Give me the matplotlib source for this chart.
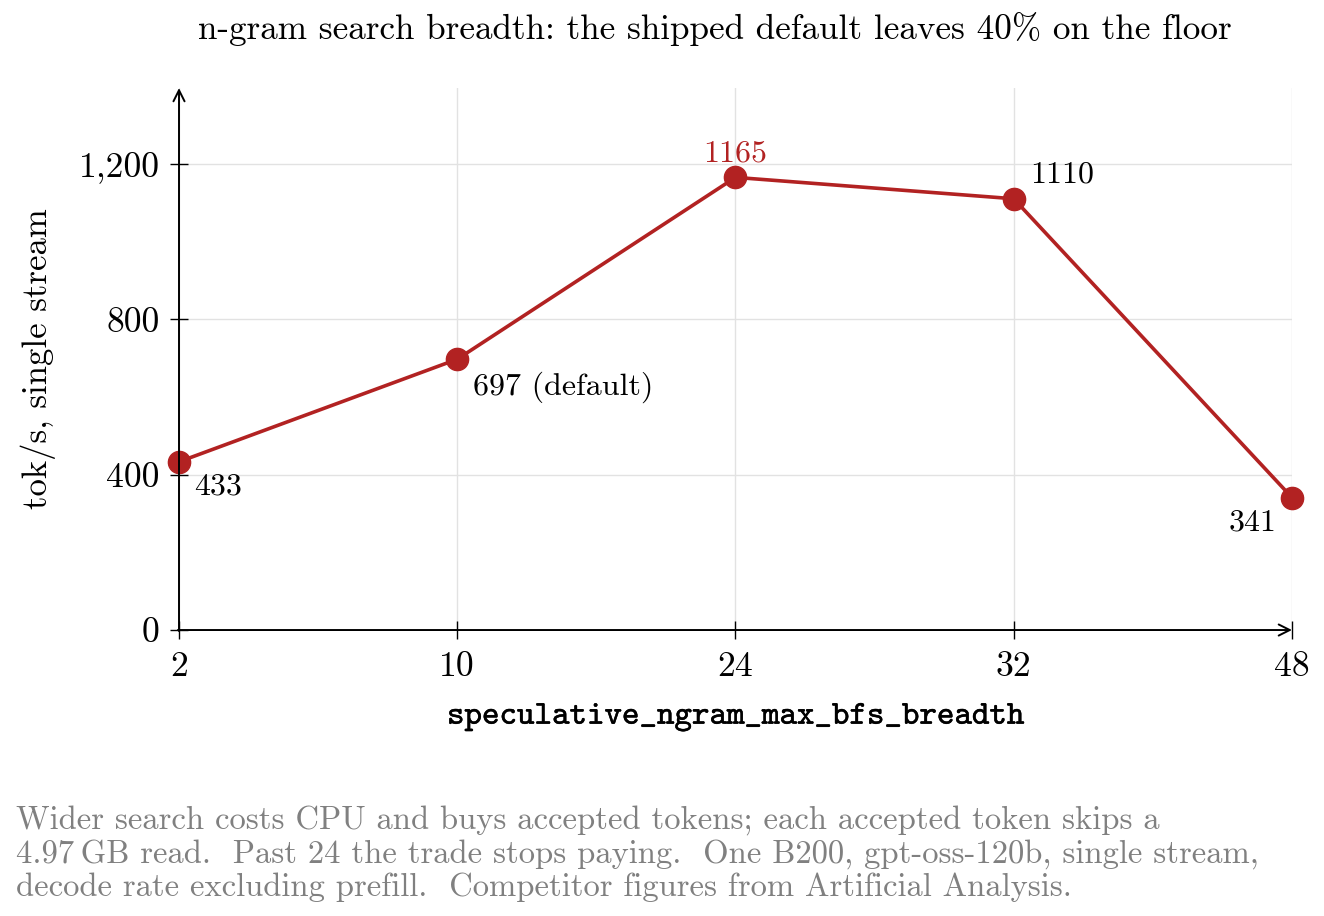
import matplotlib.pyplot as plt
import matplotlib.patheffects as pe

# data
breadths = ["2", "10", "24", "32", "48"]
tok_s = [433, 697, 1165, 1110, 341]
point_labels = ["433", "697 (default)", "1165", "1110", "341"]

red = "#b22222"
plt.rcParams["font.family"] = ["cmr10", "DejaVu Serif"]
plt.rcParams["axes.formatter.use_mathtext"] = True

fig = plt.figure(figsize=(13.24, 9.16), dpi=100)
ax = fig.add_axes([0.1352, 0.3122, 0.8406, 0.5917])

x = list(range(len(breadths)))
ax.plot(x, tok_s, color=red, lw=2.6, marker="o", ms=16, zorder=3, clip_on=False)

ax.set_xlim(0, 4)
ax.set_ylim(0, 1395)
ax.set_xticks(x)
ax.set_xticklabels(breadths)
ax.set_yticks([0, 400, 800, 1200])
ax.set_yticklabels(["0", "400", "800", "1,200"])
ax.grid(True, color="#e2e2e2", lw=1)
ax.set_axisbelow(True)

for s in ["top", "right", "left", "bottom"]:
    ax.spines[s].set_visible(False)
arrow = dict(arrowstyle="->,head_length=0.5,head_width=0.25", color="black", lw=1.4,
             mutation_scale=16, shrinkA=0, shrinkB=0)
ax.annotate("", xy=(0, 1), xytext=(0, -0.002), xycoords="axes fraction", arrowprops=arrow)
ax.annotate("", xy=(1, 0), xytext=(-0.001, 0), xycoords="axes fraction", arrowprops=arrow)

ax.tick_params(direction="inout", length=13, width=1, labelsize=25.7, color="black")
ax.tick_params(axis="x", pad=9)
ax.tick_params(axis="y", pad=7.5)

# point labels
fs = 23
ax.annotate(point_labels[0], (0, tok_s[0]), xytext=(11, -18), textcoords="offset points",
            ha="left", va="center", fontsize=fs)
ax.annotate(point_labels[1], (1, tok_s[1]), xytext=(11, -20), textcoords="offset points",
            ha="left", va="center", fontsize=fs)
ax.annotate(point_labels[2], (2, tok_s[2]), xytext=(0, 17), textcoords="offset points",
            ha="center", va="center", fontsize=fs, color=red)
ax.annotate(point_labels[3], (3, tok_s[3]), xytext=(12, 17), textcoords="offset points",
            ha="left", va="center", fontsize=fs)
ax.annotate(point_labels[4], (4, tok_s[4]), xytext=(-11, -18), textcoords="offset points",
            ha="right", va="center", fontsize=fs)

ax.set_ylabel("tok/s, single stream", fontsize=25, labelpad=16)
xl = ax.set_xlabel("speculative_ngram_max_bfs_breadth", fontsize=24, labelpad=14,
                   family=["cmtt10", "DejaVu Sans Mono"])
xl.set_path_effects([pe.withStroke(linewidth=0.35, foreground="black")])

fig.text(0.54, 0.968, "n-gram search breadth: the shipped default leaves 40% on the floor",
         ha="center", va="center", fontsize=25.3)

foot = ("Wider search costs CPU and buys accepted tokens; each accepted token skips a\n"
        "4.97\u2009GB read.  Past 24 the trade stops paying.  One B200, gpt-oss-120b, single stream,\n"
        "decode rate excluding prefill.  Competitor figures from Artificial Analysis.")
fig.text(0.012, 0.0677, foot, ha="left", va="center", fontsize=23.5, color="#808080",
         linespacing=1.13)

fig.savefig("out.png", dpi=100)
